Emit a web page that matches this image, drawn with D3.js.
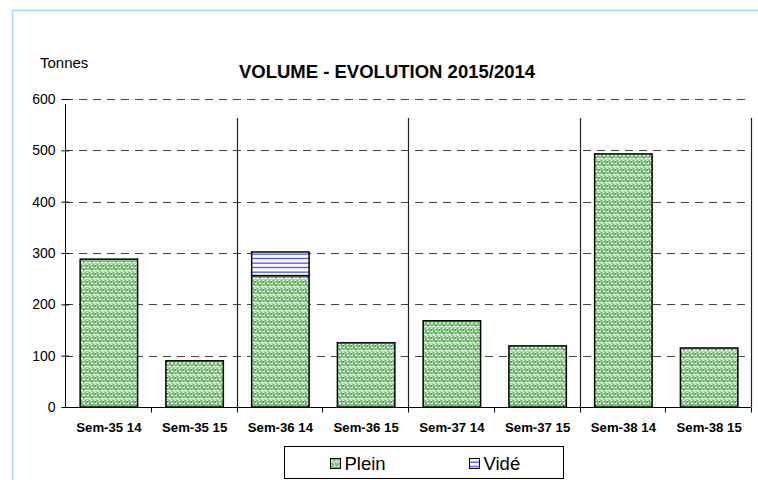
<!DOCTYPE html>
<html>
<head>
<meta charset="utf-8">
<script src="https://cdn.jsdelivr.net/npm/d3@7"></script>
<style>
  body { margin: 0; background: #fff; }
  svg { display: block; font-family: "Liberation Sans", Arial, sans-serif; }
</style>
</head>
<body>
<div id="chart"></div>
<script>
// data
const categories = ["Sem-35 14", "Sem-35 15", "Sem-36 14", "Sem-36 15",
                    "Sem-37 14", "Sem-37 15", "Sem-38 14", "Sem-38 15"];
const plein = [288, 90, 256, 125, 168, 119, 493, 115];
const vide  = [0, 0, 46, 0, 0, 0, 0, 0];
const yTicks = [0, 100, 200, 300, 400, 500, 600];

const w = 758, h = 480;
const plotLeft = 65, plotRight = 751, plotTop = 99, plotBottom = 407;

const svg = d3.select("#chart").append("svg")
  .attr("width", w)
  .attr("height", h);

// patterns
const defs = svg.append("defs");
const pp = defs.append("pattern")
  .attr("id", "plein")
  .attr("patternUnits", "userSpaceOnUse")
  .attr("width", 8).attr("height", 8);
pp.append("rect").attr("width", 8).attr("height", 8).attr("fill", "#f4fbf3");
pp.append("path")
  .attr("d", "M0,6 L2,4 L4,6 L6,4 L8,6 M0,2 L2,0 M4,2 L6,0 M2,4 L2,2 L4,2 M6,4 L6,2 L8,2")
  .attr("fill", "none")
  .attr("stroke", "#66bd64")
  .attr("stroke-width", 1.7);
pp.append("path")
  .attr("d", "M0,7.5 L8,7.5 M4.5,0 L4.5,1")
  .attr("fill", "none")
  .attr("stroke", "#a9dba5")
  .attr("stroke-width", 1);
pp.append("rect").attr("x", 3).attr("y", 5).attr("width", 1).attr("height", 1).attr("fill", "#12861e");
pp.append("rect").attr("x", 7).attr("y", 1).attr("width", 1).attr("height", 1).attr("fill", "#12861e");
pp.append("rect").attr("x", 1).attr("y", 3).attr("width", 1).attr("height", 1).attr("fill", "#2f9b33");

const pv = defs.append("pattern")
  .attr("id", "vide")
  .attr("patternUnits", "userSpaceOnUse")
  .attr("width", 6).attr("height", 4.5);
pv.append("rect").attr("width", 6).attr("height", 4.5).attr("fill", "#fff");
pv.append("rect").attr("y", 1.5).attr("width", 6).attr("height", 1.2).attr("fill", "#3a3aff");

// frame
svg.append("path")
  .attr("d", "M12.5,480 L12.5,10.5 L758,10.5")
  .attr("fill", "none")
  .attr("stroke", "#a6d8f2")
  .attr("stroke-width", 1.5);

const x = d3.scaleBand()
  .domain(categories)
  .range([plotLeft, plotRight])
  .paddingInner(0.33)
  .paddingOuter(0.165);

const y = d3.scaleLinear()
  .domain([0, 600])
  .range([plotBottom, plotTop]);

// grid lines
svg.append("g")
  .selectAll("line")
  .data(yTicks.filter(d => d > 0))
  .join("line")
  .attr("x1", plotLeft).attr("x2", plotRight)
  .attr("y1", d => Math.round(y(d)) + 0.5)
  .attr("y2", d => Math.round(y(d)) + 0.5)
  .attr("stroke", "#444")
  .attr("stroke-dasharray", "8,6");

// group separators
const step = x.step();
const seps = [2, 4, 6, 8];
svg.append("g")
  .selectAll("line")
  .data(seps)
  .join("line")
  .attr("x1", d => Math.round(plotLeft + d * step) + 0.5)
  .attr("x2", d => Math.round(plotLeft + d * step) + 0.5)
  .attr("y1", 118)
  .attr("y2", plotBottom)
  .attr("stroke", "#222")
  .attr("stroke-width", 1.2);

// bars
const bars = svg.append("g");
bars.selectAll("rect.plein")
  .data(categories)
  .join("rect")
  .attr("class", "plein")
  .attr("x", d => x(d) + 1)
  .attr("width", x.bandwidth())
  .attr("y", (d, i) => y(plein[i]))
  .attr("height", (d, i) => y(0) - y(plein[i]))
  .attr("fill", "url(#plein)")
  .attr("stroke", "#000")
  .attr("stroke-width", 1.5);

bars.selectAll("rect.vide")
  .data(categories.filter((d, i) => vide[i] > 0))
  .join("rect")
  .attr("class", "vide")
  .attr("x", d => x(d) + 1)
  .attr("width", x.bandwidth())
  .attr("y", d => { const i = categories.indexOf(d); return y(plein[i] + vide[i]); })
  .attr("height", d => { const i = categories.indexOf(d); return y(plein[i]) - y(plein[i] + vide[i]); })
  .attr("fill", "url(#vide)")
  .attr("stroke", "#000")
  .attr("stroke-width", 1.5);

// y axis
const yAxis = d3.axisLeft(y)
  .tickValues(yTicks)
  .tickSize(6)
  .tickSizeOuter(0);
const ya = svg.append("g")
  .attr("transform", `translate(${plotLeft + 0.5},0)`)
  .call(yAxis);
ya.select(".domain").attr("stroke", "#000").attr("d", `M0,${plotTop + 5}V${plotBottom}`);
ya.selectAll(".tick line").attr("x1", 4).attr("x2", -4).attr("stroke", "#000");
ya.selectAll(".tick text")
  .attr("x", -10)
  .attr("font-size", 14)
  .attr("font-family", "'Liberation Sans', Arial, sans-serif")
  .attr("fill", "#000");

// x axis
const xa = svg.append("g")
  .attr("transform", `translate(0,${plotBottom + 0.5})`);
xa.append("line")
  .attr("x1", plotLeft).attr("x2", plotRight)
  .attr("stroke", "#000");
xa.selectAll("line.tick")
  .data(d3.range(1, 9))
  .join("line")
  .attr("class", "tick")
  .attr("x1", d => Math.round(plotLeft + d * step) + 0.5)
  .attr("x2", d => Math.round(plotLeft + d * step) + 0.5)
  .attr("y1", 0)
  .attr("y2", 5)
  .attr("stroke", "#000");
xa.selectAll("text")
  .data(categories)
  .join("text")
  .attr("x", d => x(d) + x.bandwidth() / 2 + 1)
  .attr("y", 24)
  .attr("text-anchor", "middle")
  .attr("font-size", 13.2)
  .attr("font-weight", "bold")
  .text(d => d);

// titles
svg.append("text")
  .attr("x", 387).attr("y", 78)
  .attr("text-anchor", "middle")
  .attr("font-size", 18.5)
  .attr("font-weight", "bold")
  .text("VOLUME - EVOLUTION 2015/2014");

svg.append("text")
  .attr("x", 40).attr("y", 68)
  .attr("font-size", 15)
  .text("Tonnes");

// legend
const lg = svg.append("g").attr("transform", "translate(284.5,446.5)");
lg.append("rect")
  .attr("width", 279).attr("height", 32)
  .attr("fill", "#fff")
  .attr("stroke", "#000");
const legendItems = [
  { name: "Plein", fill: "url(#plein)", x: 46 },
  { name: "Vidé", fill: "url(#vide)", x: 185 }
];
const li = lg.selectAll("g.item")
  .data(legendItems)
  .join("g")
  .attr("class", "item")
  .attr("transform", d => `translate(${d.x},0)`);
li.append("rect")
  .attr("x", 0).attr("y", 12)
  .attr("width", 10).attr("height", 10)
  .attr("fill", d => d.fill)
  .attr("stroke", "#000");
li.append("text")
  .attr("x", 14).attr("y", 23.5)
  .attr("font-size", 18.5)
  .text(d => d.name);
</script>
</body>
</html>
